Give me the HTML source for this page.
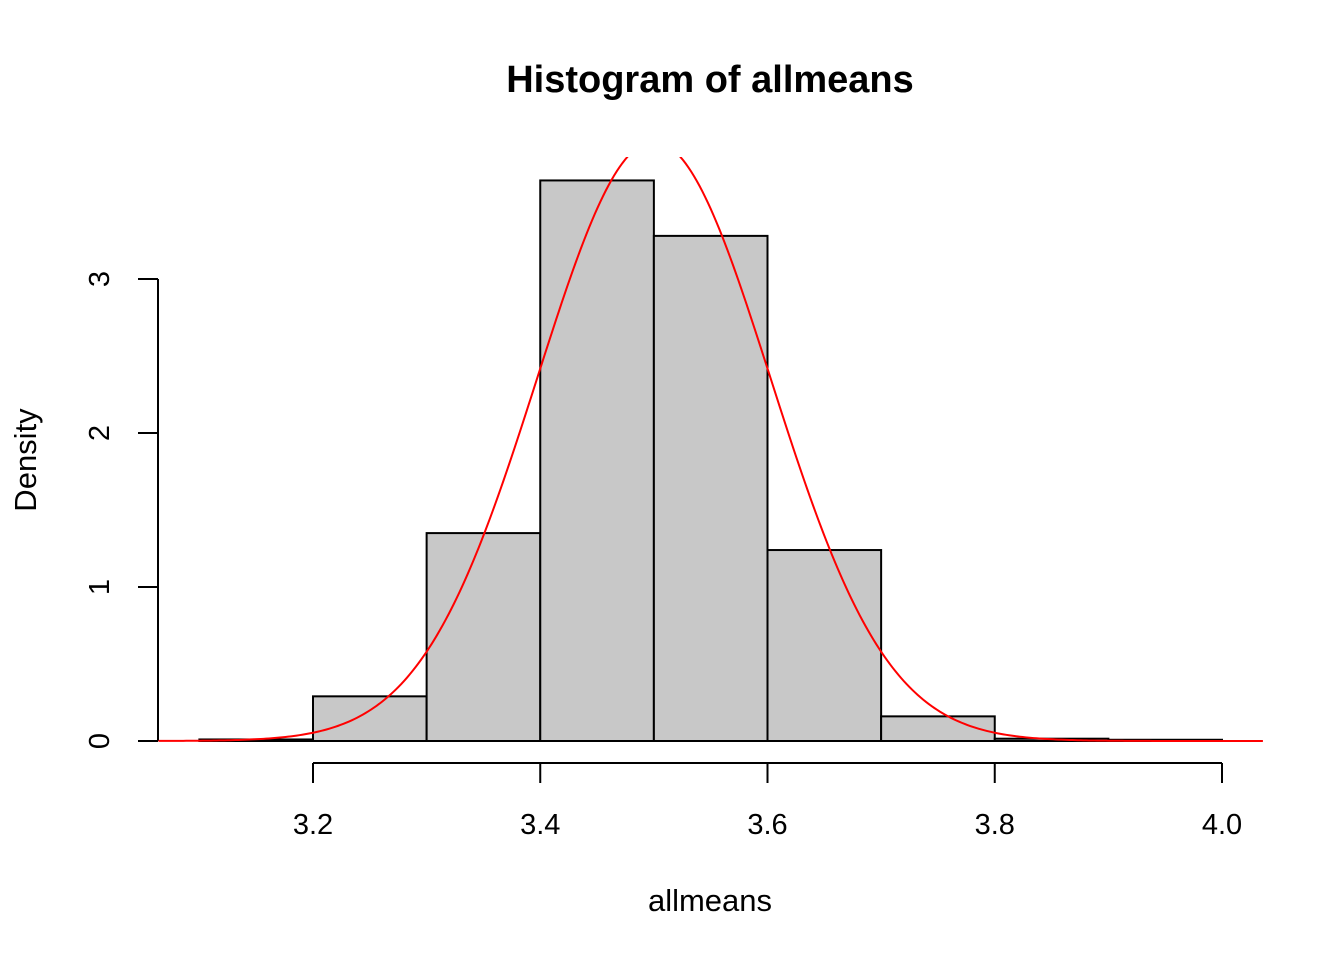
<!DOCTYPE html>
<html><head><meta charset="utf-8"><style>
body{margin:0;background:#fff}
svg text{font-family:"Liberation Sans",Arial,sans-serif;fill:#000}
</style></head><body>
<svg id="chart" width="1344" height="960" viewBox="0 0 1344 960">
<text x="710" y="92" font-size="38" font-weight="bold" text-anchor="middle">Histogram of allmeans</text>
<text x="710" y="911" font-size="31" text-anchor="middle">allmeans</text>
<text transform="translate(36,460) rotate(-90)" font-size="31" text-anchor="middle">Density</text>
<g id="bars"></g>
<g id="axes"></g>
<defs><clipPath id="plotclip"><rect x="158" y="157" width="1105" height="600"/></clipPath></defs>
<path id="curve" fill="none" stroke="#ff0000" stroke-width="2" clip-path="url(#plotclip)"/>
</svg>
<script>
const binEdges=[3.1,3.2,3.3,3.4,3.5,3.6,3.7,3.8,3.9,4.0];
const densities=[0.01,0.29,1.35,3.64,3.28,1.24,0.16,0.015,0.008];
const xTicks=[3.2,3.4,3.6,3.8,4.0];
const xTickLabels=["3.2","3.4","3.6","3.8","4.0"];
const yTicks=[0,1,2,3];
const yTickLabels=["0","1","2","3"];
const curveMean=3.5;
const curveSd=0.1025;

const NS="http://www.w3.org/2000/svg";
const x=v=>313+(v-3.2)*1136.25;
const y=v=>741-v*154;
function mk(tag,attrs,parent){const e=document.createElementNS(NS,tag);for(const k in attrs)e.setAttribute(k,attrs[k]);parent.appendChild(e);return e;}
const bars=document.getElementById('bars'), axes=document.getElementById('axes');
densities.forEach((d,i)=>{
  const r=mk('rect',{x:x(binEdges[i]),y:y(d),width:x(binEdges[i+1])-x(binEdges[i]),height:y(0)-y(d),fill:'#c8c8c8',stroke:'#000','stroke-width':2},bars);
  
  
});
let l=mk('line',{x1:x(xTicks[0]),x2:x(xTicks[xTicks.length-1]),y1:763,y2:763,stroke:'#000','stroke-width':2},axes);


xTicks.forEach((t,i)=>{
  const tk=mk('line',{x1:x(t),x2:x(t),y1:763,y2:783,stroke:'#000','stroke-width':2},axes);
  
  
  const tx=mk('text',{x:x(t),y:834,'font-size':29,'text-anchor':'middle'},axes);
  tx.textContent=xTickLabels[i];
  
  
});
l=mk('line',{x1:158,x2:158,y1:y(yTicks[yTicks.length-1]),y2:y(yTicks[0]),stroke:'#000','stroke-width':2},axes);


yTicks.forEach((t,i)=>{
  const tk=mk('line',{x1:138,x2:158,y1:y(t),y2:y(t),stroke:'#000','stroke-width':2},axes);
  
  
  const tx=mk('text',{transform:`translate(109,${y(t)}) rotate(-90)`,'font-size':29,'text-anchor':'middle'},axes);
  tx.textContent=yTickLabels[i];
  
  
});
let d='';
for(let i=0;i<=400;i++){
  const v=3.064+(4.036-3.064)*i/400;
  const p=Math.exp(-0.5*((v-curveMean)/curveSd)**2)/(curveSd*Math.sqrt(2*Math.PI));
  d+=(i?'L':'M')+x(v).toFixed(2)+','+y(p).toFixed(2);
}
document.getElementById('curve').setAttribute('d',d);
</script>
</body></html>
